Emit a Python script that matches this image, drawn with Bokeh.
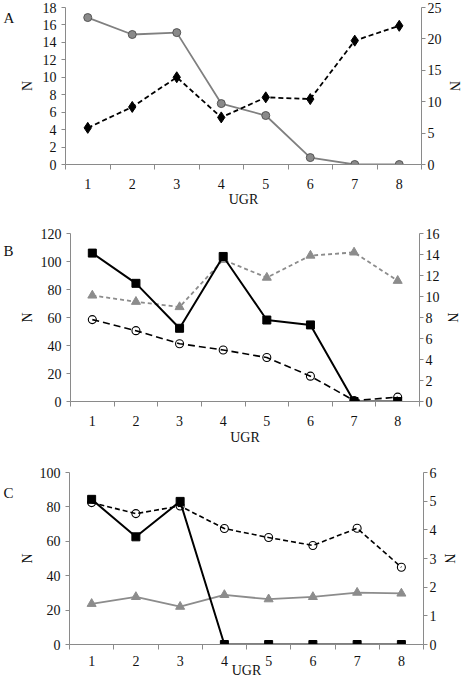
from bokeh.plotting import figure
from bokeh.models import Range1d, LinearAxis, FixedTicker
from bokeh.layouts import column, row
from bokeh.core.properties import value
from bokeh.embed import file_html
from bokeh.resources import INLINE

ugr = [1, 2, 3, 4, 5, 6, 7, 8]
ugr_labels = ["1", "2", "3", "4", "5", "6", "7", "8"]

# Panel A
a_diamond = [4.2, 6.6, 10.0, 5.4, 7.7, 7.5, 14.2, 15.9]      # left axis (0-18)
a_circle = [23.4, 20.7, 21.0, 9.7, 7.8, 1.1, 0.0, 0.0]       # right axis (0-25)
a_left_ticks = [0, 2, 4, 6, 8, 10, 12, 14, 16, 18]
a_right_ticks = [0, 5, 10, 15, 20, 25]

# Panel B
b_square = [106.0, 84.4, 52.3, 103.6, 58.2, 54.7, 0.0, 0.0]  # left (0-120)
b_circle = [58.5, 50.6, 41.3, 36.8, 31.4, 18.1, 0.7, 3.1]    # left
b_triangle = [10.1, 9.5, 9.0, 13.5, 11.8, 13.9, 14.2, 11.5]  # right (0-16)
b_left_ticks = [0, 20, 40, 60, 80, 100, 120]
b_right_ticks = [0, 2, 4, 6, 8, 10, 12, 14, 16]

# Panel C
c_square = [84.4, 62.6, 83.2, 0.0, 0.0, 0.0, 0.0, 0.0]       # left (0-100)
c_circle = [82.5, 76.1, 80.5, 67.4, 62.2, 57.6, 67.6, 44.9]  # left
c_triangle = [1.42, 1.66, 1.32, 1.73, 1.58, 1.66, 1.81, 1.78]  # right (0-6)
c_left_ticks = [0, 20, 40, 60, 80, 100]
c_right_ticks = [0, 1, 2, 3, 4, 5, 6]

panel_letters = ["A", "B", "C"]

FONT = "'Liberation Serif', 'Times New Roman', serif"
FS = "14px"
AXIS_COL = "#8a8a8a"
GRAY = "#808080"
TXT = "#111111"
LETTER_W = 16


def style_y(ax, ticks):
    ax.ticker = FixedTicker(ticks=ticks)
    ax.axis_line_color = AXIS_COL
    ax.major_tick_line_color = AXIS_COL
    ax.major_tick_out = 4
    ax.major_tick_in = 0
    ax.minor_tick_line_color = None
    ax.major_label_text_font = FONT
    ax.major_label_text_font_size = FS
    ax.major_label_text_color = TXT
    ax.axis_label = "N"
    ax.axis_label_text_font = FONT
    ax.axis_label_text_font_size = FS
    ax.axis_label_text_font_style = "normal"
    ax.axis_label_text_color = TXT


def letter_fig(letter, height, y_center):
    f = figure(width=LETTER_W, height=height, output_backend="svg", toolbar_location=None,
               x_range=Range1d(0, LETTER_W), y_range=Range1d(height, 0),
               x_axis_location=None, y_axis_location=None,
               min_border_left=0, min_border_right=0, min_border_top=0, min_border_bottom=0)
    f.outline_line_color = None
    f.xgrid.visible = False
    f.ygrid.visible = False
    f.text(x=[3], y=[y_center], text=[letter], text_font=value(FONT),
           text_font_size=value("15px"), text_color=TXT, text_align="left",
           text_baseline="middle")
    return f


def make_panel(height, top, bottom, left, right, ymax_l, ymax_r, lticks, rticks,
               l_standoff, r_standoff, x_lab_standoff, x_tick_standoff):
    p = figure(width=464 - LETTER_W, height=height, output_backend="svg",
               toolbar_location=None,
               x_range=Range1d(0.5, 8.5), y_range=Range1d(0, ymax_l),
               min_border_top=top, min_border_bottom=bottom,
               min_border_left=left, min_border_right=right)
    p.extra_y_ranges = {"right": Range1d(0, ymax_r)}
    p.outline_line_color = None
    p.xgrid.visible = False
    p.ygrid.visible = False

    xa = p.xaxis[0]
    xa.ticker = FixedTicker(ticks=ugr, minor_ticks=[0.5 + i for i in range(9)])
    xa.major_label_overrides = {u: l for u, l in zip(ugr, ugr_labels)}
    xa.axis_line_color = AXIS_COL
    xa.major_tick_out = 0
    xa.major_tick_in = 0
    xa.minor_tick_out = 5
    xa.minor_tick_in = 0
    xa.minor_tick_line_color = AXIS_COL
    xa.major_label_standoff = x_tick_standoff
    xa.major_label_text_font = FONT
    xa.major_label_text_font_size = FS
    xa.major_label_text_color = TXT
    xa.axis_label = "UGR"
    xa.axis_label_text_font = FONT
    xa.axis_label_text_font_size = FS
    xa.axis_label_text_font_style = "normal"
    xa.axis_label_text_color = TXT
    xa.axis_label_standoff = x_lab_standoff

    ya = p.yaxis[0]
    style_y(ya, lticks)
    ya.major_label_standoff = 5
    ya.axis_label_standoff = l_standoff

    ra = LinearAxis(y_range_name="right")
    style_y(ra, rticks)
    ra.major_label_standoff = 2
    ra.axis_label_standoff = r_standoff
    p.add_layout(ra, "right")
    return p


# ---- Panel A ----
pa = make_panel(213, 7, 49, 63 - LETTER_W, 40, 18, 25, a_left_ticks, a_right_ticks,
                5, 2, 0, 9)
pa.line(ugr, a_circle, y_range_name="right", line_color=GRAY, line_width=1.8)
pa.scatter(ugr, a_circle, y_range_name="right", marker="circle", size=8,
           fill_color="#8a8a8a", line_color="#555555", line_width=1)
pa.line(ugr, a_diamond, line_color="black", line_width=1.8, line_dash="5 3")
pa.scatter(ugr, a_diamond, marker="diamond", size=11, fill_color="black",
           line_color="black")

# ---- Panel B ----
pb = make_panel(237, 20, 49, 66 - LETTER_W, 45, 120, 16, b_left_ticks, b_right_ticks,
                3, 2, 1, 9)
pb.line(ugr, b_triangle, y_range_name="right", line_color="#8c8c8c", line_width=1.8,
        line_dash="4 3")
pb.scatter(ugr, b_triangle, y_range_name="right", marker="triangle", size=9,
           fill_color="#8c8c8c", line_color="#8c8c8c")
pb.line(ugr, b_circle, line_color="black", line_width=1.6, line_dash="7 4")
pb.scatter(ugr, b_circle, marker="circle", size=8, fill_color=None,
           line_color="black", line_width=1.1)
pb.line(ugr, b_square, line_color="black", line_width=2)
pb.scatter(ugr, b_square, marker="square", size=8, fill_color="black",
           line_color="black")

# ---- Panel C ----
pc = make_panel(230, 22, 36, 64 - LETTER_W, 41, 100, 6, c_left_ticks, c_right_ticks,
                2, 2, -6, 6)
pc.line(ugr, c_triangle, y_range_name="right", line_color="#8c8c8c", line_width=1.8)
pc.scatter(ugr, c_triangle, y_range_name="right", marker="triangle", size=9,
           fill_color="#8c8c8c", line_color="#8c8c8c")
pc.line(ugr, c_circle, line_color="black", line_width=1.6, line_dash="5 3")
pc.scatter(ugr, c_circle, marker="circle", size=8, fill_color=None,
           line_color="black", line_width=1.1)
pc.line(ugr, c_square, line_color="black", line_width=2)
pc.scatter(ugr, c_square, marker="square", size=8, fill_color="black",
           line_color="black")

la = letter_fig(panel_letters[0], 213, 14)
lb = letter_fig(panel_letters[1], 237, 25)
lc = letter_fig(panel_letters[2], 230, 28)

layout = column(row(la, pa, spacing=0), row(lb, pb, spacing=0),
                row(lc, pc, spacing=0), spacing=0)
open("out.html", "w").write(file_html(layout, INLINE))
